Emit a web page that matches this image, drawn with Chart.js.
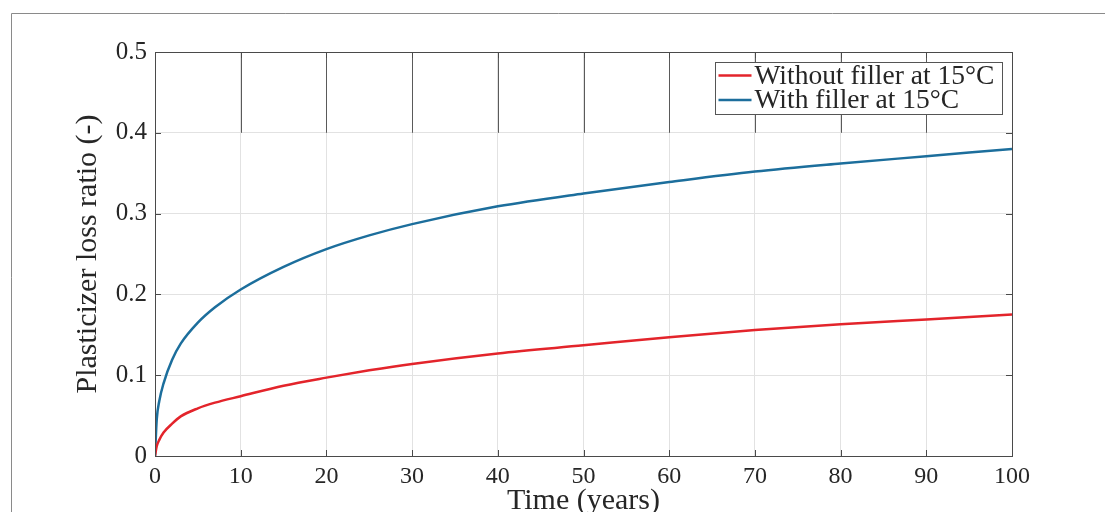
<!DOCTYPE html>
<html>
<head>
<meta charset="utf-8">
<script src="https://cdn.jsdelivr.net/npm/chart.js@4/dist/chart.umd.min.js"></script>
<style>
  html, body { margin: 0; padding: 0; background: #fff; overflow: hidden; }
  #wrap { position: relative; width: 1105px; height: 540px; }
</style>
</head>
<body>
<div id="wrap"><canvas id="myChart"></canvas></div>
<script>
'use strict';

// time in years
var years = [0, 0.2, 0.5, 1, 2, 3, 5, 7, 10, 15, 20, 25, 30, 40, 50, 60, 70, 80, 90, 100]
var withoutFiller = [0, 0.012, 0.020, 0.029, 0.040, 0.049, 0.059, 0.066, 0.074, 0.087, 0.097, 0.106, 0.114, 0.127, 0.137, 0.147, 0.156, 0.163, 0.169, 0.175]
var withFiller = [0, 0.045, 0.068, 0.090, 0.119, 0.139, 0.165, 0.184, 0.206, 0.234, 0.256, 0.273, 0.287, 0.309, 0.325, 0.339, 0.352, 0.362, 0.371, 0.380]
var seriesNames = ['Without filler at 15°C', 'With filler at 15°C']
var seriesColors = ['#e3242b', '#1c6e9c']
var xTicks = [0, 10, 20, 30, 40, 50, 60, 70, 80, 90, 100]
var yTicks = [0, 0.1, 0.2, 0.3, 0.4, 0.5]

var serif = '"Liberation Serif", "DejaVu Serif", serif'
var textCol = '#262626'

const toPoints = (vals) => vals.map((v, i) => ({x: years[i], y: v}))

// figure frame, box, inward ticks and legend
var decor = {
	id: 'decor',
	beforeDraw(chart) {
		var ctx = chart.ctx
		ctx.save()
		ctx.strokeStyle = '#8a8a8a'
		ctx.lineWidth = 1
		ctx.beginPath()
		ctx.moveTo(11.5, 600)
		ctx.lineTo(11.5, 13.5)
		ctx.lineTo(1200, 13.5)
		ctx.stroke()
		ctx.restore()
	},
	beforeDatasetsDraw(chart) {
		var ctx = chart.ctx
		var xs = chart.scales.x, ys = chart.scales.y
		ctx.save()
		// darker grid segments in the top band
		ctx.strokeStyle = '#5a5a5a'
		ctx.lineWidth = 1
		ctx.beginPath()
		xTicks.forEach((t) => {
			var px = Math.round(xs.getPixelForValue(t)) + 0.5
			ctx.moveTo(px, ys.getPixelForValue(0.5))
			ctx.lineTo(px, ys.getPixelForValue(0.4))
		})
		ctx.stroke()
		ctx.restore()
	},
	afterDatasetsDraw(chart) {
		var ctx = chart.ctx, a = chart.chartArea
		var xs = chart.scales.x, ys = chart.scales.y
		ctx.save()
		ctx.strokeStyle = '#4a4a4a'
		ctx.lineWidth = 1
		ctx.strokeRect(Math.round(a.left) + 0.5, Math.round(a.top) + 0.5, Math.round(a.right - a.left), Math.round(a.bottom - a.top))
		ctx.beginPath()
		xTicks.forEach((t) => {
			var px = Math.round(xs.getPixelForValue(t)) + 0.5
			ctx.moveTo(px, a.bottom); ctx.lineTo(px, a.bottom - 6)
			ctx.moveTo(px, a.top); ctx.lineTo(px, a.top + 6)
		})
		yTicks.forEach((t) => {
			var py = Math.round(ys.getPixelForValue(t)) + 0.5
			ctx.moveTo(a.left, py); ctx.lineTo(a.left + 6, py)
			ctx.moveTo(a.right, py); ctx.lineTo(a.right - 6, py)
		})
		ctx.stroke()

		// legend box
		var bw = 287, bh = 52
		var bx = Math.round(a.right - 10 - bw) + 0.5, by = Math.round(a.top + 10) + 0.5
		ctx.fillStyle = '#fff'
		ctx.fillRect(bx, by, bw, bh)
		ctx.strokeStyle = '#555'
		ctx.strokeRect(bx, by, bw, bh)
		ctx.font = '27.5px ' + serif
		ctx.textBaseline = 'middle'
		ctx.textAlign = 'left'
		chart.data.datasets.forEach((ds, i) => {
			var ry = by + 13 + i * 24.5
			ctx.strokeStyle = ds.borderColor
			ctx.lineWidth = 2.5
			ctx.beginPath()
			ctx.moveTo(bx + 3, ry); ctx.lineTo(bx + 36, ry)
			ctx.stroke()
			ctx.fillStyle = textCol
			ctx.fillText(ds.label, bx + 39, ry + 1)
		})
		ctx.restore()
	}
}

var chart = new Chart(document.getElementById('myChart').getContext('2d'), {
	type: 'line',
	data: {
		datasets: [
			{label: seriesNames[0], data: toPoints(withoutFiller), borderColor: seriesColors[0], borderWidth: 2.5, pointRadius: 0, cubicInterpolationMode: 'monotone', fill: false},
			{label: seriesNames[1], data: toPoints(withFiller), borderColor: seriesColors[1], borderWidth: 2.5, pointRadius: 0, cubicInterpolationMode: 'monotone', fill: false}
		]
	},
	options: {
		responsive: true,
		maintainAspectRatio: false,
		animation: false,
		layout: {padding: {top: 52, right: 93, left: 0, bottom: 0}},
		plugins: {legend: {display: false}, tooltip: {enabled: false}},
		scales: {
			x: {
				type: 'linear', min: 0, max: 100,
				afterBuildTicks: (s) => { s.ticks = xTicks.map((v) => ({value: v})) },
				afterFit: (s) => { s.height = 84 },
				grid: {color: '#e2e2e2', drawTicks: false},
				border: {display: false},
				ticks: {padding: 6, color: textCol, font: {family: serif, size: 24}, maxRotation: 0},
				title: {display: true, text: 'Time (years)', color: textCol, font: {family: serif, size: 30}, padding: {top: 0, bottom: 21}}
			},
			y: {
				type: 'linear', min: 0, max: 0.5,
				afterBuildTicks: (s) => { s.ticks = yTicks.map((v) => ({value: v})) },
				afterFit: (s) => { s.width = 155 },
				grid: {color: (c) => c.tick && c.tick.value > 0.45 ? 'rgba(0,0,0,0)' : '#e2e2e2', drawTicks: false},
				border: {display: false},
				ticks: {padding: 8, color: textCol, font: {family: serif, size: 25}, callback: (v) => String(Math.round(v * 10) / 10)},
				title: {display: true, text: 'Plasticizer loss ratio (-)', color: textCol, font: {family: serif, size: 30}, padding: {top: 70, bottom: 0}}
			}
		}
	},
	plugins: [decor]
})
</script>
</body>
</html>
